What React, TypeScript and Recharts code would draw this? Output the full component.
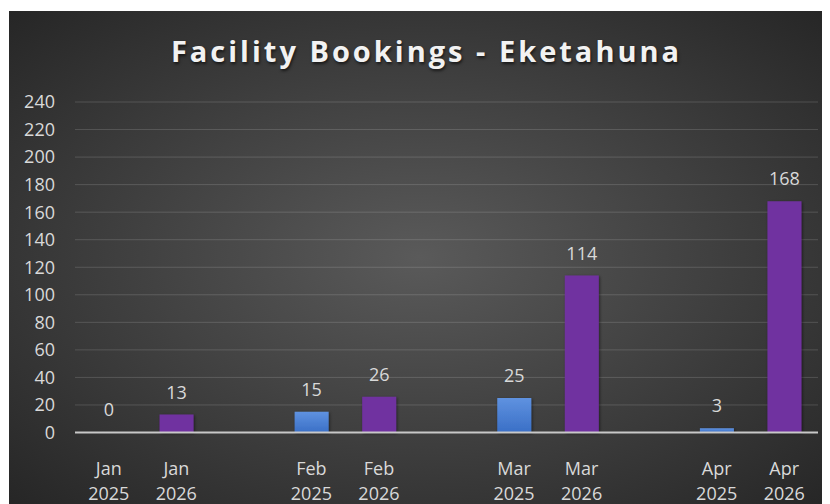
import { BarChart, Bar, XAxis, YAxis, CartesianGrid, Cell, LabelList } from 'recharts';

const months = ['Jan', 'Jan', '', 'Feb', 'Feb', '', 'Mar', 'Mar', '', 'Apr', 'Apr'];
const years = ['2025', '2026', '', '2025', '2026', '', '2025', '2026', '', '2025', '2026'];
const bookings: (number | null)[] = [0, 13, null, 15, 26, null, 25, 114, null, 3, 168];
const yTicks = [0, 20, 40, 60, 80, 100, 120, 140, 160, 180, 200, 220, 240];

const data = months.map((m, i) => ({
    key: `${m}-${years[i]}-${i}`,
    month: m,
    year: years[i],
    bookings: bookings[i],
}));

const FONT = '"Open Sans", "Liberation Sans", sans-serif';
const TEXT = '#d9d9d9';

const MonthTick = (props: any) => {
    const { x, y, payload } = props;
    const row = data[payload.index];
    if (!row || !row.month) return null;
    return (
        <text x={x} y={y} textAnchor="middle" fill={TEXT} fontSize={18} fontFamily={FONT}>
            <tspan x={x} dy={34.5}>{row.month}</tspan>
            <tspan x={x} dy={25}>{row.year}</tspan>
        </text>
    );
};

const ValueLabel = (props: any) => {
    const { x, y, width, value } = props;
    if (value === null || value === undefined) return null;
    return (
        <text x={x + width / 2} y={y - 16} textAnchor="middle" fill={TEXT} fontSize={18} fontFamily={FONT}>
            {value}
        </text>
    );
};

export default function App() {
    return (
        <div
            style={{
                position: 'relative',
                width: 821,
                height: 493,
                marginTop: 3,
                marginLeft: 1,
                background: 'radial-gradient(ellipse farthest-corner at 50% 50%, #5a5a5a 0%, #262626 100%)',
            }}
        >
            <div
                style={{
                    position: 'absolute',
                    top: 20,
                    left: 7,
                    width: 821,
                    textAlign: 'center',
                    color: '#f2f2f2',
                    fontFamily: FONT,
                    fontWeight: 700,
                    fontSize: 29,
                    letterSpacing: 3,
                    textShadow: '1px 2px 3px rgba(0,0,0,0.6)',
                }}
            >
                Facility Bookings - Eketahuna
            </div>
            <BarChart
                width={821}
                height={493}
                data={data}
                margin={{ top: 91, right: 12, left: 0, bottom: 11.5 }}
                style={{ position: 'absolute', top: 0, left: 0 }}
            >
                <defs>
                    <linearGradient id="blueBar" x1="0" y1="0" x2="0" y2="1">
                        <stop offset="0%" stopColor="#5f92e0" />
                        <stop offset="100%" stopColor="#3a6fc6" />
                    </linearGradient>
                    <filter id="barShadow" x="-20%" y="-20%" width="140%" height="140%">
                        <feDropShadow dx="1" dy="1" stdDeviation="1.5" floodColor="#000" floodOpacity="0.5" />
                    </filter>
                </defs>
                <CartesianGrid vertical={false} stroke="rgba(255,255,255,0.15)" strokeWidth={1} />
                <XAxis
                    dataKey="key"
                    tick={<MonthTick />}
                    tickLine={false}
                    axisLine={{ stroke: '#c8c8c8', strokeWidth: 2 }}
                    height={60}
                    interval={0}
                />
                <YAxis
                    domain={[0, 240]}
                    ticks={yTicks}
                    width={66}
                    tickSize={0}
                    tickMargin={20}
                    axisLine={false}
                    tickLine={false}
                    tick={{ fill: TEXT, fontSize: 18, fontFamily: FONT }}
                    interval={0}
                />
                <Bar
                    dataKey="bookings"
                    barSize={34}
                    minPointSize={(v: any) => (v === 0 ? 0.01 : 0)}
                    isAnimationActive={false}
                    style={{ filter: 'url(#barShadow)' }}
                >
                    {data.map((d, i) => (
                        <Cell key={`cell-${i}`} fill={d.year === '2025' ? 'url(#blueBar)' : '#7030a0'} />
                    ))}
                    <LabelList dataKey="bookings" content={<ValueLabel />} />
                </Bar>
            </BarChart>
        </div>
    );
}
